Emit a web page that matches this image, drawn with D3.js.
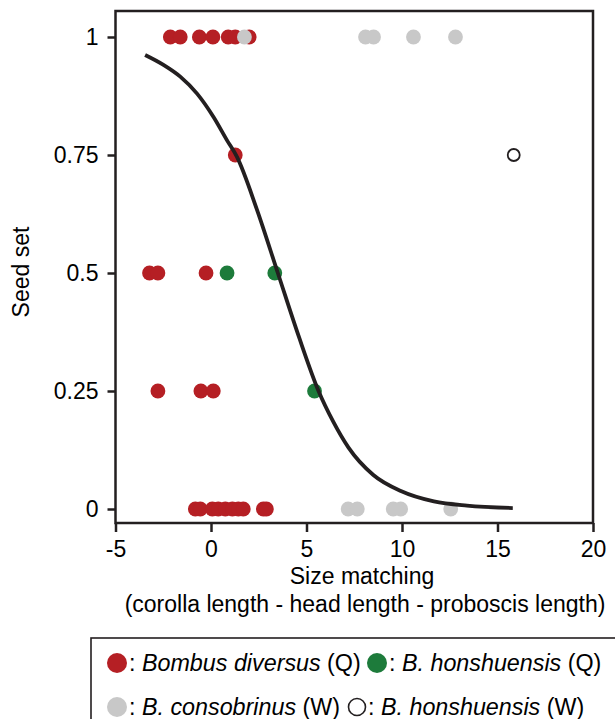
<!DOCTYPE html>
<html>
<head>
<meta charset="utf-8">
<script src="https://cdn.jsdelivr.net/npm/d3@7"></script>
<style>
  body { margin: 0; background: #fff; }
  svg { display: block; font-family: "Liberation Sans", Arial, sans-serif; }
</style>
</head>
<body>
<svg id="chart" width="615" height="719"></svg>
<script>
// ---------- data ----------
const xTicks = [-5, 0, 5, 10, 15, 20];
const xTickLabels = ["-5", "0", "5", "10", "15", "20"];
const yTicks = [0, 0.25, 0.5, 0.75, 1];
const yTickLabels = ["0", "0.25", "0.5", "0.75", "1"];

// Bombus diversus (Q) – red
const diversusX = [-2.13, -1.61, -0.61, 0.1, 0.9, 1.27, 2.0,
                   1.27,
                   -3.22, -2.78, -0.26,
                   -2.78, -0.53, 0.12,
                   -0.82, -0.56, 0.07, 0.38, 0.75, 1.12, 1.43, 1.69, 2.74, 2.9];
const diversusY = [1, 1, 1, 1, 1, 1, 1,
                   0.75,
                   0.5, 0.5, 0.5,
                   0.25, 0.25, 0.25,
                   0, 0, 0, 0, 0, 0, 0, 0, 0, 0];

// B. consobrinus (W) – grey
const consobrinusX = [1.75, 8.09, 8.51, 10.6, 12.8, 7.18, 7.66, 9.54, 9.93, 12.55];
const consobrinusY = [1, 1, 1, 1, 1, 0, 0, 0, 0, 0];

// B. honshuensis (Q) – green
const honshuQX = [0.84, 3.34, 5.42];
const honshuQY = [0.5, 0.5, 0.25];

// B. honshuensis (W) – open circle
const honshuWX = [15.85];
const honshuWY = [0.75];

// fitted curve, points
const curveX = [-3.45, -2.49, -1.61, -0.73, 0.14, 0.84, 1.36, 2.4, 3.5, 4.6, 5.63, 6.4, 7.2, 8.5, 9.94, 11.67, 13.4, 15.8];
const curveY = [0.962, 0.941, 0.916, 0.880, 0.830, 0.781, 0.746, 0.635, 0.5, 0.365, 0.25, 0.185, 0.13, 0.072, 0.038, 0.016, 0.007, 0.002];

// ---------- drawing ----------
const ink = "#231f20";
const red = "#b51f24", green = "#1d7b3b", grey = "#c8c8c8";
const svg = d3.select("#chart");

const x = d3.scaleLinear().domain([-5, 20]).range([115.5, 593]);
const y = d3.scaleLinear().domain([0, 1]).range([509, 37]);
const box = { left: 115.5, right: 593, top: 11, bottom: 523 };

function pts(xs, ys) { return xs.map((v, i) => [v, ys[i]]); }

// points
const g = svg.append("g");
g.selectAll(".red").data(pts(diversusX, diversusY)).join("circle")
  .attr("cx", d => x(d[0])).attr("cy", d => y(d[1])).attr("r", 7.4).attr("fill", red);
g.selectAll(".grey").data(pts(consobrinusX, consobrinusY)).join("circle")
  .attr("cx", d => x(d[0])).attr("cy", d => y(d[1])).attr("r", 7.4).attr("fill", grey);
g.selectAll(".green").data(pts(honshuQX, honshuQY)).join("circle")
  .attr("cx", d => x(d[0])).attr("cy", d => y(d[1])).attr("r", 7.4).attr("fill", green);
g.selectAll(".open").data(pts(honshuWX, honshuWY)).join("circle")
  .attr("cx", d => x(d[0])).attr("cy", d => y(d[1])).attr("r", 6).attr("fill", "none")
  .attr("stroke", ink).attr("stroke-width", 1.8);

// curve
svg.append("path").datum(pts(curveX, curveY))
  .attr("d", d3.line().x(d => x(d[0])).y(d => y(d[1])).curve(d3.curveMonotoneX))
  .attr("fill", "none").attr("stroke", ink).attr("stroke-width", 3.8);

// frame
svg.append("rect")
  .attr("x", box.left).attr("y", box.top)
  .attr("width", box.right - box.left).attr("height", box.bottom - box.top)
  .attr("fill", "none").attr("stroke", ink).attr("stroke-width", 2.5);

// axes
const xAxis = svg.append("g").attr("transform", `translate(0,${box.bottom})`)
  .call(d3.axisBottom(x).tickValues(xTicks).tickFormat((d, i) => xTickLabels[i]).tickSize(9).tickSizeOuter(0).tickPadding(9));
const yAxis = svg.append("g").attr("transform", `translate(${box.left},0)`)
  .call(d3.axisLeft(y).tickValues(yTicks).tickFormat((d, i) => yTickLabels[i]).tickSize(8).tickSizeOuter(0).tickPadding(9));
[xAxis, yAxis].forEach(a => {
  a.select(".domain").remove();
  a.selectAll(".tick line").attr("stroke", ink).attr("stroke-width", 2.5);
  a.selectAll(".tick text").attr("fill", "#000").style("font-size", "23px")
    .style("font-family", "'Liberation Sans', Arial, sans-serif");
});

// axis titles
svg.append("text").attr("x", 362).attr("y", 584).attr("text-anchor", "middle")
  .style("font-size", "23px").text("Size matching");
svg.append("text").attr("x", 365).attr("y", 612).attr("text-anchor", "middle")
  .style("font-size", "23px").text("(corolla length - head length - proboscis length)");
svg.append("text").attr("transform", "translate(29,272) rotate(-90)").attr("text-anchor", "middle")
  .style("font-size", "23px").text("Seed set");

// legend
svg.append("rect").attr("x", 91).attr("y", 638).attr("width", 560).attr("height", 120)
  .attr("fill", "none").attr("stroke", ink).attr("stroke-width", 1.6);

function legendText(xp, yp, parts) {
  const t = svg.append("text").attr("x", xp).attr("y", yp).style("font-size", "23.3px");
  parts.forEach(p => t.append("tspan").style("font-style", p[1] ? "italic" : "normal").text(p[0]));
}
svg.append("circle").attr("cx", 117).attr("cy", 663).attr("r", 10).attr("fill", red);
legendText(129, 671, [[": ", 0], ["Bombus diversus", 1], [" (Q)", 0]]);
svg.append("circle").attr("cx", 377).attr("cy", 663).attr("r", 10).attr("fill", green);
legendText(389, 671, [[": ", 0], ["B. honshuensis", 1], [" (Q)", 0]]);
svg.append("circle").attr("cx", 117).attr("cy", 707).attr("r", 10).attr("fill", grey);
legendText(129, 715, [[": ", 0], ["B. consobrinus", 1], [" (W)", 0]]);
svg.append("circle").attr("cx", 357).attr("cy", 707).attr("r", 8.5).attr("fill", "none")
  .attr("stroke", ink).attr("stroke-width", 1.6);
legendText(368, 715, [[": ", 0], ["B. honshuensis", 1], [" (W)", 0]]);
</script>
</body>
</html>
